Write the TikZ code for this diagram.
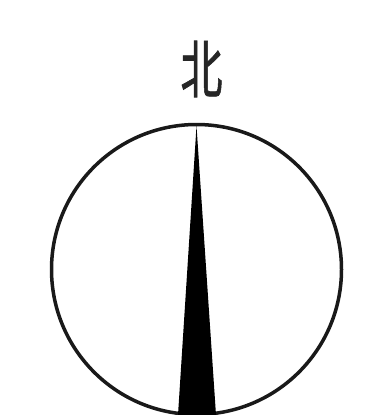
\documentclass[tikz,border=0pt]{standalone}
\usepackage{fontspec}
\newfontfamily\cjk[FakeBold=1.2]{Noto Sans CJK SC}
\begin{document}
\begin{tikzpicture}[x=1pt,y=-1pt]
\useasboundingbox (0,0) rectangle (376,415);
\begin{scope}
\clip (0,0) rectangle (376,415);
\node[circle,draw=black!90,line width=3.5pt,minimum size=290pt,inner sep=0pt] (ring) at (196.5,269.5) {};
\coordinate (tip) at (196.5,126);
\coordinate (bl) at (178,415);
\coordinate (br) at (216,415);
\fill[black] (tip) -- (br) -- (bl) -- cycle;
\end{scope}
\node[font=\cjk\fontsize{42}{42}\selectfont,text=black!85,inner sep=0pt] (north) at (201.5,69) {\scalebox{1}[1.5]{北}};
\end{tikzpicture}
\end{document}
